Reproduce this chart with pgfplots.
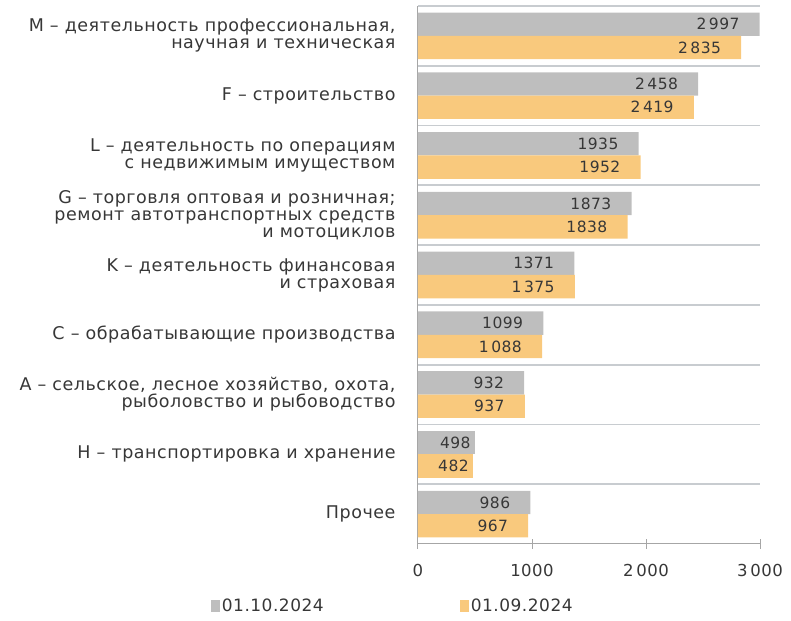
\documentclass[border=0pt]{standalone}
\usepackage{pgfplots}
\pgfplotsset{compat=1.18}
\usepackage{fontspec}
\setmainfont[LetterSpace=3]{DejaVu Sans}
\definecolor{grayb}{RGB}{190,190,190}
\definecolor{orangeb}{RGB}{249,201,125}
\definecolor{txt}{RGB}{55,55,55}
\definecolor{sep}{RGB}{200,204,208}
\begin{document}
\begin{tikzpicture}
\begin{axis}[
  scale only axis,
  width=342pt, height=538pt,
  xmin=0, xmax=3000,
  ymin=-0.5, ymax=8.5,
  xbar, bar width=0.39,
  axis x line=bottom, axis y line=left,
  axis line style={draw=gray!70, line width=1pt, -},
  xtick={0,1000,2000,3000},
  xticklabels={0,1000,2\,000,3\,000},
  x tick label style={font=\fontsize{16.5}{16.5}\selectfont, text=txt, yshift=-12pt},
  tick align=center,
  major tick length=10pt,
  xtick style={draw=gray!70, line width=1pt},
  ytick={0,...,8},
  ytick style={draw=none},
  yticklabels={
    {Прочее},
    {H – транспортировка и хранение},
    {A – сельское, лесное хозяйство, охота,\\рыболовство и рыбоводство},
    {C – обрабатывающие производства},
    {K – деятельность финансовая\\и страховая},
    {G – торговля оптовая и розничная;\\ремонт автотранспортных средств\\и мотоциклов},
    {L – деятельность по операциям\\с недвижимым имуществом},
    {F – строительство},
    {M – деятельность профессиональная,\\научная и техническая}},
  y tick label style={font=\fontsize{17.5}{17}\selectfont, text=txt, align=right, xshift=-14pt},
  extra y ticks={0.5,1.5,2.5,3.5,4.5,5.5,6.5,7.5,8.5},
  extra y tick labels={},
  extra y tick style={grid=major, major grid style={draw=sep, line width=1.8pt},
    tick style={draw=sep, line width=1.8pt}, major tick length=16pt},
  point meta=explicit symbolic,
  nodes near coords,
  every node near coord/.append style={anchor=east, xshift=-20pt, font=\fontsize{15.5}{15.5}\selectfont, text=txt, inner sep=0pt},
  legend style={at={(rel axis cs:-0.615,-0.115)}, anchor=west, draw=none, fill=none, legend columns=2,
    font=\fontsize{17}{17}\selectfont, text=txt,
    /tikz/every even column/.append style={column sep=134pt}},
  legend image code/.code={\fill[#1] (0pt,-6pt) rectangle (9pt,6pt);},
  clip=false,
]
\addplot[draw=none, fill=grayb, bar shift=0.195] coordinates {
 (986,0) [986] (932,2) [932] (1099,3) [1099] (1371,4) [1371]
 (1873,5) [1873] (1935,6) [1935] (2458,7) [2\,458] (2997,8) [2\,997]};
\addlegendentry{01.10.2024}
\addplot[draw=none, fill=orangeb, bar shift=-0.195] coordinates {
 (967,0) [967] (937,2) [937] (1088,3) [1\,088] (1375,4) [1\,375]
 (1838,5) [1838] (1952,6) [1952] (2419,7) [2\,419] (2835,8) [2\,835]};
\addlegendentry{01.09.2024}
\addplot[draw=none, fill=grayb, bar shift=0.195, forget plot,
  every node near coord/.append style={xshift=16pt}] coordinates {(498,1) [498]};
\addplot[draw=none, fill=orangeb, bar shift=-0.195, forget plot,
  every node near coord/.append style={xshift=16pt}] coordinates {(482,1) [482]};
\coordinate (bl) at (rel axis cs:0,0);
\coordinate (tr) at (rel axis cs:1,1);
\end{axis}
\pgfresetboundingbox
\path ([shift={(-418pt,-77pt)}]bl) rectangle ([shift={(31pt,6pt)}]tr);
\end{tikzpicture}
\end{document}
